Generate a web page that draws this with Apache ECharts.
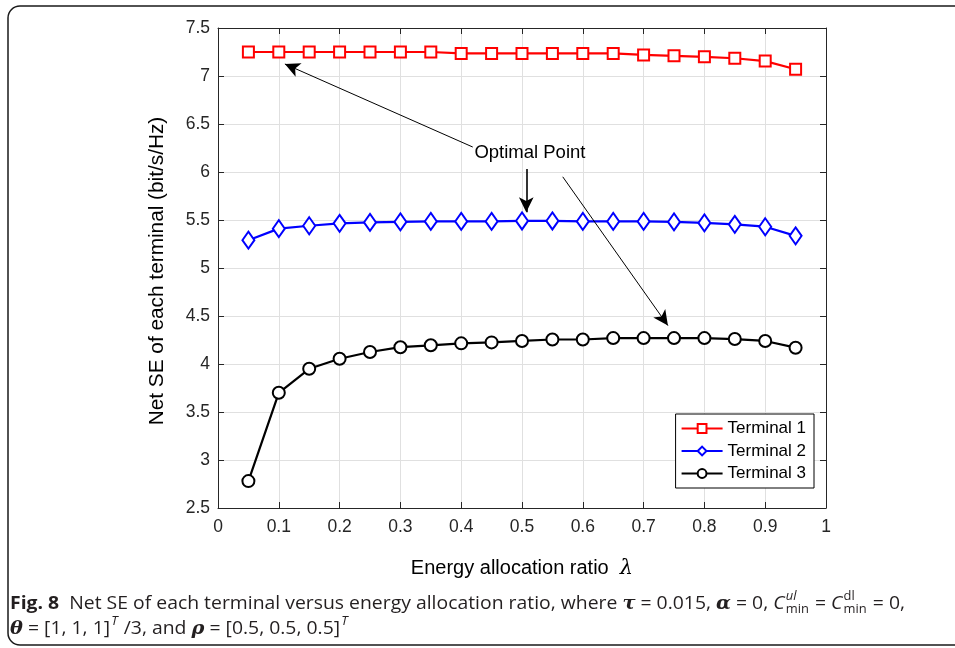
<!DOCTYPE html>
<html>
<head>
<meta charset="utf-8">
<script src="https://cdn.jsdelivr.net/npm/echarts@6/dist/echarts.min.js"></script>
<style>
html,body{margin:0;padding:0;background:#fff;}
#chart{width:955px;height:648px;}
</style>
</head>
<body>
<div id="chart"></div>
<script>
// ---- data ----
const lambdaValues = [0.05,0.1,0.15,0.2,0.25,0.3,0.35,0.4,0.45,0.5,0.55,0.6,0.65,0.7,0.75,0.8,0.85,0.9,0.95];
const terminal1 = [7.25,7.25,7.25,7.25,7.25,7.25,7.25,7.235,7.235,7.235,7.235,7.235,7.235,7.22,7.21,7.2,7.185,7.155,7.07];
const terminal2 = [5.29,5.41,5.44,5.465,5.475,5.48,5.485,5.485,5.485,5.49,5.49,5.485,5.485,5.485,5.48,5.47,5.455,5.43,5.335];
const terminal3 = [2.78,3.70,3.95,4.055,4.125,4.175,4.195,4.215,4.225,4.24,4.255,4.255,4.27,4.27,4.27,4.27,4.26,4.24,4.17];
const seriesNames = ['Terminal 1','Terminal 2','Terminal 3'];
const xTicks = [0,0.1,0.2,0.3,0.4,0.5,0.6,0.7,0.8,0.9,1];
const yTicks = [2.5,3,3.5,4,4.5,5,5.5,6,6.5,7,7.5];
// annotation arrows: [tail, tip] in data coordinates
const arrows = [
  [[0.419,6.26],[0.110,7.125]],
  [[0.507,6.03],[0.507,5.58]],
  [[0.567,5.95],[0.740,4.40]]
];
const annotationText = 'Optimal Point';
const annotationPos = [0.513,6.20];

const pair = (xs, ys) => xs.map((x,i)=>[x,ys[i]]);

const chart = echarts.init(document.getElementById('chart'), null, {renderer:'canvas'});
const AX = '#262626';
const GRIDC = '#e0e0e0';
const FONT = '"Liberation Sans", Arial, Helvetica, sans-serif';

// ---- caption layout ----
const ctx = document.createElement('canvas').getContext('2d');
function mw(text, font){ ctx.font = font; return ctx.measureText(text).width; }
const CF = '"Open Sans", "Noto Sans", sans-serif';
const SF = '"DejaVu Serif", serif';
const fN = '18px ' + CF, fB = 'bold 18px ' + CF, fI = 'italic 18px ' + CF;
const fM = 'italic bold 18px ' + SF;
const fS = '12px ' + CF, fSI = 'italic 12px ' + CF;
const line1 = [
  {t:'Fig. 8', f:fB},
  {t:'  Net SE of each terminal versus energy allocation ratio, where ', f:fN},
  {t:'τ', f:fM},
  {t:' = 0.015, ', f:fN},
  {t:'α', f:fM},
  {t:' = 0, ', f:fN},
  {t:'C', f:fI},
  {sup:'ul', supf:fSI, sub:'min', subf:fS},
  {t:' = ', f:fN},
  {t:'C', f:fI},
  {sup:'dl', supf:fS, sub:'min', subf:fS},
  {t:' = 0,', f:fN}
];
const line2 = [
  {t:'θ', f:fM},
  {t:' = [1, 1, 1]', f:fN},
  {sup:'T', supf:fSI},
  {t:' /3, and ', f:fN},
  {t:'ρ', f:fM},
  {t:' = [0.5, 0.5, 0.5]', f:fN},
  {sup:'T', supf:fSI}
];
function layout(segs, yc){
  const els = []; let x = 0;
  segs.forEach(s=>{
    if (s.t !== undefined){
      els.push({type:'text', x:x, y:yc, style:{text:s.t, font:s.f, fill:'#231f20', verticalAlign:'middle'}});
      x += mw(s.t, s.f);
    } else {
      let w = 0;
      if (s.sup){ els.push({type:'text', x:x+1, y:yc-7, style:{text:s.sup, font:s.supf, fill:'#231f20', verticalAlign:'middle'}}); w = Math.max(w, mw(s.sup,s.supf)+1); }
      if (s.sub){ els.push({type:'text', x:x+1, y:yc+6, style:{text:s.sub, font:s.subf, fill:'#231f20', verticalAlign:'middle'}}); w = Math.max(w, mw(s.sub,s.subf)+1); }
      x += w + 1;
    }
  });
  return {els, width:x};
}
const L1 = layout(line1, 604);
const L2 = layout(line2, 629);
const capScale = 895 / L1.width;

const option = {
  animation:false,
  backgroundColor:'#fff',
  grid:{left:218, right:129, top:28, bottom:140, containLabel:false},
  legend:{
    data:seriesNames,
    orient:'vertical',
    right:141, bottom:160,
    backgroundColor:'#fff',
    borderColor:'#000', borderWidth:1, borderRadius:0,
    padding:[6,8,6,5],
    itemGap:5.5, itemWidth:41, itemHeight:11,
    textStyle:{fontFamily:FONT, fontSize:17, color:'#000'}
  },
  xAxis:[{
    type:'value', min:xTicks[0], max:xTicks[xTicks.length-1], interval:0.1, position:'bottom',
    axisLine:{show:true, onZero:false, lineStyle:{color:AX, width:1}},
    axisTick:{show:true, inside:true, length:6, lineStyle:{color:AX}},
    axisLabel:{fontFamily:FONT, fontSize:17.5, color:AX, margin:10},
    splitLine:{show:true, lineStyle:{color:GRIDC, width:1}},
    name:'Energy allocation ratio  {l|λ}', nameLocation:'middle', nameGap:50,
    nameTextStyle:{fontFamily:FONT, fontSize:20, color:'#000', rich:{l:{fontFamily:SF, fontStyle:'italic', fontSize:21, color:'#000'}}}
  },{
    type:'value', min:xTicks[0], max:xTicks[xTicks.length-1], interval:0.1, position:'top',
    axisLine:{show:true, onZero:false, lineStyle:{color:AX, width:1}},
    axisTick:{show:true, inside:true, length:6, lineStyle:{color:AX}},
    axisLabel:{show:false}, splitLine:{show:false}
  }],
  yAxis:[{
    type:'value', min:yTicks[0], max:yTicks[yTicks.length-1], interval:0.5, position:'left',
    axisLine:{show:true, onZero:false, lineStyle:{color:AX, width:1}},
    axisTick:{show:true, inside:true, length:6, lineStyle:{color:AX}},
    axisLabel:{fontFamily:FONT, fontSize:17.5, color:AX, margin:8},
    splitLine:{show:true, lineStyle:{color:GRIDC, width:1}},
    name:'Net SE of each terminal (bit/s/Hz)', nameLocation:'middle', nameGap:50, nameRotate:90,
    nameTextStyle:{fontFamily:FONT, fontSize:20.8, color:'#000', padding:[0,0,0,-6]}
  },{
    type:'value', min:yTicks[0], max:yTicks[yTicks.length-1], interval:0.5, position:'right',
    axisLine:{show:true, onZero:false, lineStyle:{color:AX, width:1}},
    axisTick:{show:true, inside:true, length:6, lineStyle:{color:AX}},
    axisLabel:{show:false}, splitLine:{show:false}
  }],
  series:[
    {name:seriesNames[0], type:'line', data:pair(lambdaValues, terminal1), color:'#ff0000',
     symbol:'emptyRect', symbolSize:11, lineStyle:{width:2.2, color:'#ff0000'}, itemStyle:{color:'#ff0000', borderWidth:2}, z:3},
    {name:seriesNames[1], type:'line', data:pair(lambdaValues, terminal2), color:'#0000ff',
     symbol:'emptyDiamond', symbolSize:[12,17], lineStyle:{width:2.2, color:'#0000ff'}, itemStyle:{color:'#0000ff', borderWidth:2}, z:3},
    {name:seriesNames[2], type:'line', data:pair(lambdaValues, terminal3), color:'#000000',
     symbol:'emptyCircle', symbolSize:12, lineStyle:{width:2.2, color:'#000000'}, itemStyle:{color:'#000000', borderWidth:2}, z:3},
    {name:'annot', type:'line', data:[], silent:true, z:5,
     markLine:{
       silent:true, symbol:['none','arrow'], symbolSize:[11,15],
       label:{show:false},
       lineStyle:{color:'#000', width:1, type:'solid'},
       emphasis:{disabled:true},
       data: arrows.map((a,i)=>[{coord:a[0], lineStyle:{width: i===1?1.6:1}},{coord:a[1]}])
     },
     markPoint:{
       silent:true, symbol:'rect', symbolSize:1, itemStyle:{color:'rgba(0,0,0,0)'},
       label:{show:true, position:'inside', formatter:annotationText, fontFamily:FONT, fontSize:18.5, color:'#000'},
       data:[{coord:annotationPos}]
     }
    }
  ],
  graphic:[
    {type:'rect', shape:{x:8, y:6, width:1000, height:639, r:12}, style:{fill:'none', stroke:'#1a1a1a', lineWidth:1.5}, silent:true, z:-1},
    {type:'group', x:10, y:0, scaleX:capScale, children:L1.els.concat(L2.els)}
  ]
};
chart.setOption(option);
</script>
</body>
</html>
